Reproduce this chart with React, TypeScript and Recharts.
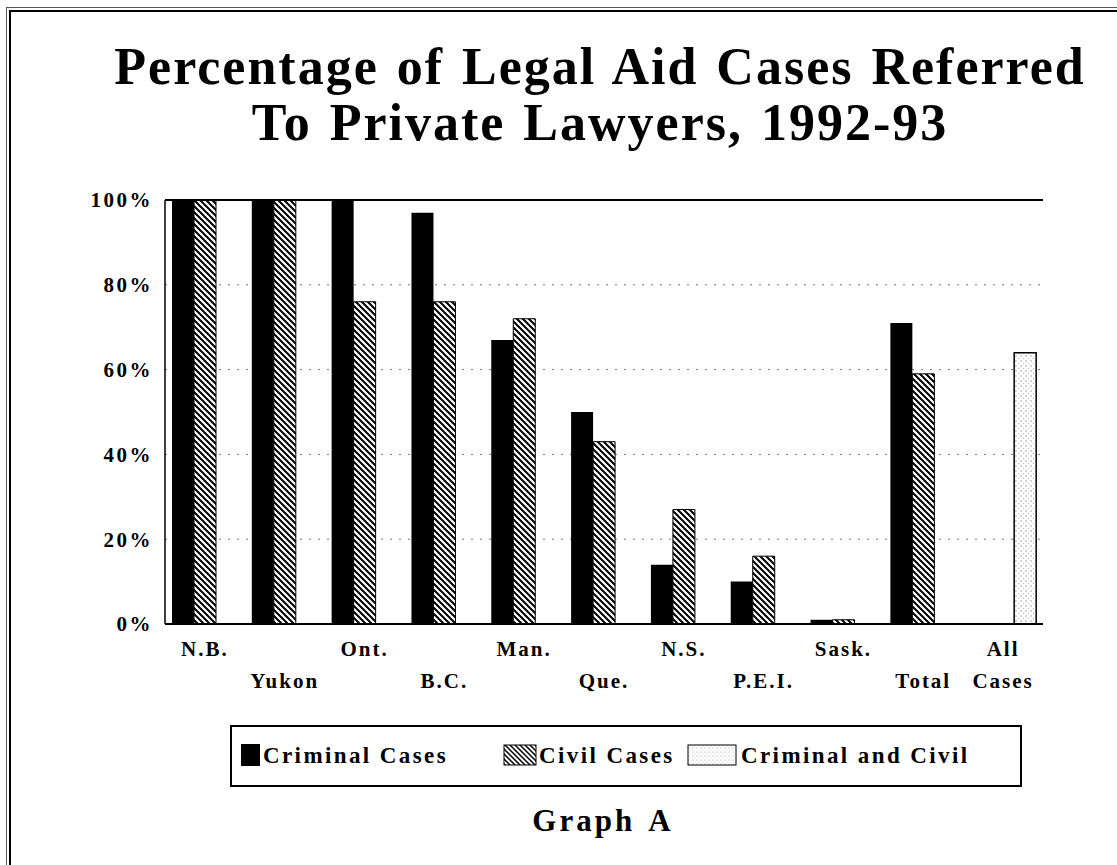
import React from "react";
import {
  BarChart,
  Bar,
  XAxis,
  YAxis,
  CartesianGrid,
  ReferenceLine,
} from "recharts";

const categories = ["N.B.", "Yukon", "Ont.", "B.C.", "Man.", "Que.", "N.S.", "P.E.I.", "Sask.", "Total", "All Cases"];
const criminal: (number | null)[] = [100, 100, 100, 97, 67, 50, 14, 10, 1, 71, null];
const civil: (number | null)[] = [100, 100, 76, 76, 72, 43, 27, 16, 1, 59, null];
const combined: (number | null)[] = [null, null, null, null, null, null, null, null, null, null, 64];
const yTicks = [0, 20, 40, 60, 80, 100];
const seriesNames = ["Criminal Cases", "Civil Cases", "Criminal and Civil"];

const data = categories.map((c, i) => ({
  name: c,
  criminal: criminal[i],
  civil: civil[i],
  combined: combined[i],
}));

const FONT = '"Liberation Serif", "DejaVu Serif", serif';

const XTick = (props: any) => {
  const { x, y, payload, index } = props;
  const label: string = payload.value;
  const low = index % 2 === 1;
  const style = { fontFamily: FONT, fontWeight: 700, fontSize: 21, letterSpacing: 2 } as any;
  const y1 = y + 24;
  const y2 = y + 56;
  if (label === "All Cases") {
    const [a, b] = label.split(" ");
    return (
      <g>
        <text x={x} y={y1} textAnchor="middle" fill="#000" style={style}>{a}</text>
        <text x={x} y={y2} textAnchor="middle" fill="#000" style={style}>{b}</text>
      </g>
    );
  }
  return (
    <text x={x} y={low ? y2 : y1} textAnchor="middle" fill="#000" style={style}>
      {label}
    </text>
  );
};

const LegendBox = () => {
  const txt = {
    position: "absolute",
    top: 15,
    fontFamily: FONT,
    fontWeight: 700,
    fontSize: 23,
    lineHeight: "27px",
    letterSpacing: 2.4,
    color: "#000",
    whiteSpace: "nowrap",
  } as any;
  return (
    <div
      style={{
        position: "absolute",
        left: 230,
        top: 725,
        width: 792,
        height: 62,
        border: "2px solid #000",
        boxSizing: "border-box",
        background: "#fff",
      }}
    >
      <svg width={800} height={60} style={{ position: "absolute", left: 0, top: 0 }}>
        <defs>
          <pattern id="lhatch" patternUnits="userSpaceOnUse" width={5} height={5}>
            <rect width={5} height={5} fill="#fff" />
            <path d="M0,0 L5,5 M-1,4 L1,6 M4,-1 L6,1" stroke="#000" strokeWidth={1.5} />
          </pattern>
          <pattern id="ldots" patternUnits="userSpaceOnUse" width={4} height={4}>
            <rect width={4} height={4} fill="#fff" />
            <circle cx={1} cy={1} r={0.6} fill="#999" />
            <circle cx={3} cy={3} r={0.5} fill="#bbb" />
          </pattern>
        </defs>
        <rect x={9} y={17} width={19} height={22} fill="#000" />
        <rect x={272} y={18} width={32} height={20} fill="url(#lhatch)" stroke="#000" strokeWidth={1} />
        <rect x={456} y={18} width={48} height={20} fill="url(#ldots)" stroke="#000" strokeWidth={1} />
      </svg>
      <span style={{ ...txt, left: 31 }}>{seriesNames[0]}</span>
      <span style={{ ...txt, left: 307 }}>{seriesNames[1]}</span>
      <span style={{ ...txt, left: 509 }}>{seriesNames[2]}</span>
    </div>
  );
};

export default function App() {
  return (
    <div
      style={{
        position: "absolute",
        left: 0,
        top: 0,
        width: 1117,
        height: 865,
        background: "#fff",
        overflow: "hidden",
      }}
    >
      {/* double frame */}
      <div style={{ position: "absolute", left: 6, top: 7, width: 1111, height: 858, boxSizing: "border-box", borderLeft: "1px solid #555", borderTop: "1px solid #555" }} />
      <div style={{ position: "absolute", left: 9, top: 10, width: 1108, height: 855, boxSizing: "border-box", borderLeft: "2px solid #000", borderTop: "2px solid #000" }} />

      <div
        style={{
          position: "absolute",
          left: 0,
          top: 39,
          width: 1200,
          textAlign: "center",
          fontFamily: FONT,
          fontWeight: 700,
          fontSize: 52,
          lineHeight: "56px",
          letterSpacing: 2,
          wordSpacing: 3,
          color: "#000",
          whiteSpace: "nowrap",
        }}
      >
        Percentage of Legal Aid Cases Referred
        <br />
        To Private Lawyers, 1992-93
      </div>

      <div
        style={{
          position: "absolute",
          left: 0,
          top: 803,
          width: 1206,
          textAlign: "center",
          fontFamily: FONT,
          fontWeight: 700,
          fontSize: 31,
          letterSpacing: 3,
          wordSpacing: 4,
          color: "#000",
        }}
      >
        Graph A
      </div>

      <div style={{ position: "absolute", left: 0, top: 0 }}>
        <BarChart
          width={1117}
          height={865}
          data={data}
          margin={{ top: 200, right: 74, left: 85, bottom: 181 }}
          barGap={0}
          barSize={22}
        >
          <defs>
            <pattern id="hatch" patternUnits="userSpaceOnUse" width={6} height={6}>
              <rect width={6} height={6} fill="#fff" />
              <path d="M0,0 L6,6 M-1,5 L1,7 M5,-1 L7,1" stroke="#000" strokeWidth={2} />
            </pattern>
            <pattern id="dots" patternUnits="userSpaceOnUse" width={5} height={5}>
              <rect width={5} height={5} fill="#fff" />
              <circle cx={1} cy={1} r={0.7} fill="#888" />
              <circle cx={3.5} cy={3.5} r={0.6} fill="#aaa" />
            </pattern>
          </defs>
          <CartesianGrid vertical={false} stroke="#777" strokeDasharray="2 7" />
          <XAxis
            dataKey="name"
            interval={0}
            tickLine={false}
            axisLine={{ stroke: "#000", strokeWidth: 2 }}
            tick={<XTick />}
            height={60}
          />
          <YAxis
            domain={[0, 100]}
            ticks={yTicks}
            tickFormatter={(v: number) => `${v}%`}
            tickLine={false}
            axisLine={{ stroke: "#000", strokeWidth: 1.5 }}
            width={80}
            tickMargin={6}
            tick={{ fill: "#000", fontFamily: FONT, fontWeight: 700, fontSize: 21, letterSpacing: 2.5 } as any}
          />
          <YAxis
            yAxisId="r"
            orientation="right"
            domain={[0, 100]}
            tick={false}
            tickLine={false}
            width={0}
            axisLine={{ stroke: "#000", strokeWidth: 2 }}
          />
          <ReferenceLine y={100} stroke="#000" strokeWidth={2} />
          <Bar dataKey="criminal" name={seriesNames[0]} fill="#000" isAnimationActive={false} />
          <Bar dataKey="civil" name={seriesNames[1]} fill="url(#hatch)" stroke="#000" strokeWidth={1} isAnimationActive={false} />
          <Bar dataKey="combined" name={seriesNames[2]} fill="url(#dots)" stroke="#000" strokeWidth={1.5} isAnimationActive={false} />
        </BarChart>
      </div>
      <LegendBox />
    </div>
  );
}
